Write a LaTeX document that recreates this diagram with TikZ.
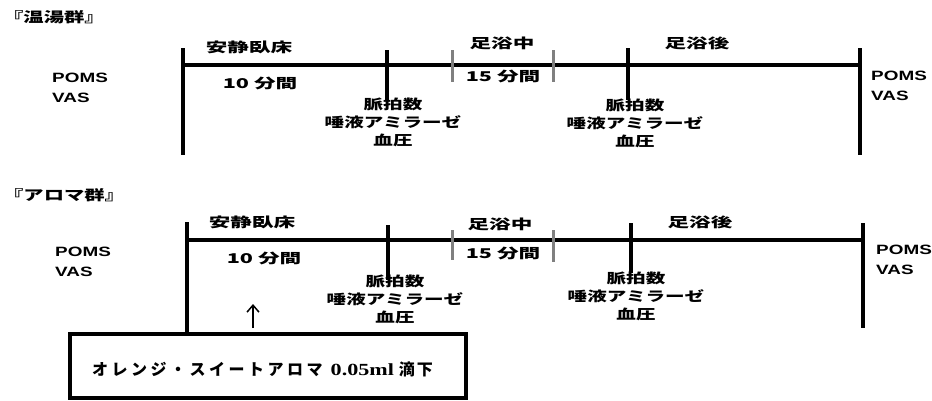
\documentclass[tikz,border=0pt]{standalone}
\usepackage{fontspec}
\setmainfont{Liberation Sans}
\newfontfamily\jp{Noto Sans CJK JP}
\newfontfamily\serifl{Liberation Serif}
\usetikzlibrary{arrows.meta}
\newcommand{\sx}[1]{\scalebox{1.6}[1]{#1}}
\newcommand{\lt}[1]{\scalebox{1.4}[1]{#1}}
\newcommand{\ls}[1]{#1\hspace{3.5pt}}
\tikzset{
  lbl/.style={inner sep=0pt, font=\jp\bfseries\fontsize{13.5}{18}\selectfont},
  ttl/.style={inner sep=0pt, font=\jp\bfseries\fontsize{14}{18}\selectfont},
  latin/.style={inner sep=0pt, font=\bfseries\fontsize{13.5}{20}\selectfont},
  bar/.style={line width=4.5pt},
  hline/.style={line width=3.5pt},
  gtick/.style={line width=3pt, draw=black!50},
  notebox/.style={draw, line width=3.5pt, inner sep=0pt},
}
\begin{document}
\begin{tikzpicture}[x=1pt,y=-1pt]
\useasboundingbox (0,0) rectangle (932,400);
% ---------- top panel ----------
\node[ttl, anchor=west] (t1) at (3,17) {\scalebox{1.45}[1]{『温湯群』}};
\coordinate (a0t) at (183,48); \coordinate (a0b) at (183,155);
\coordinate (a1t) at (387,50); \coordinate (a1b) at (387,100);
\coordinate (g1t) at (452,50); \coordinate (g1b) at (452,82);
\coordinate (g2t) at (553,50); \coordinate (g2b) at (553,82);
\coordinate (a2t) at (628,48); \coordinate (a2b) at (628,100);
\coordinate (a3t) at (860,48); \coordinate (a3b) at (860,155);
\coordinate (hl) at (183,65); \coordinate (hr) at (860,65);
\draw[hline] (hl) -- (hr);
\draw[bar] (a0t) -- (a0b);
\draw[bar] (a1t) -- (a1b);
\draw[bar] (a2t) -- (a2b);
\draw[bar] (a3t) -- (a3b);
\draw[gtick] (g1t) -- (g1b);
\draw[gtick] (g2t) -- (g2b);
\node[lbl] (s1) at (249,47) {\sx{安静臥床}};
\node[lbl] (d1) at (260,83) {\sx{10 分間}};
\node[lbl] (s2) at (502,43) {\sx{足浴中}};
\node[lbl] (d2) at (503,76) {\sx{15 分間}};
\node[lbl] (s3) at (697,43) {\sx{足浴後}};
\node[latin, anchor=west] (pl1) at (52,88) {\lt{\begin{tabular}{@{}l@{}}POMS\\VAS\end{tabular}}};
\node[latin, anchor=west] (pr1) at (871,86) {\lt{\begin{tabular}{@{}l@{}}POMS\\VAS\end{tabular}}};
\node[lbl] (m1) at (393,124) {\scalebox{1.45}[1]{\begin{tabular}{@{}c@{}}脈拍数\\唾液アミラーゼ\\血圧\end{tabular}}};
\node[lbl] (m2) at (635,125) {\scalebox{1.45}[1]{\begin{tabular}{@{}c@{}}脈拍数\\唾液アミラーゼ\\血圧\end{tabular}}};
% ---------- bottom panel ----------
\node[ttl, anchor=west] (t2) at (3,195) {\scalebox{1.45}[1]{『アロマ群』}};
\coordinate (b0t) at (187,222); \coordinate (b0b) at (187,332);
\coordinate (b1t) at (388,225); \coordinate (b1b) at (388,280);
\coordinate (h1t) at (452,230); \coordinate (h1b) at (452,260);
\coordinate (h2t) at (553,230); \coordinate (h2b) at (553,262);
\coordinate (b2t) at (631,223); \coordinate (b2b) at (631,273);
\coordinate (b3t) at (863,223); \coordinate (b3b) at (863,328);
\coordinate (kl) at (187,240); \coordinate (kr) at (863,240);
\draw[hline] (kl) -- (kr);
\draw[bar] (b0t) -- (b0b);
\draw[bar] (b1t) -- (b1b);
\draw[bar] (b2t) -- (b2b);
\draw[bar] (b3t) -- (b3b);
\draw[gtick] (h1t) -- (h1b);
\draw[gtick] (h2t) -- (h2b);
\node[lbl] (u1) at (252,222) {\sx{安静臥床}};
\node[lbl] (e1) at (264,258) {\sx{10 分間}};
\node[lbl] (u2) at (500,224) {\sx{足浴中}};
\node[lbl] (e2) at (503,253) {\sx{15 分間}};
\node[lbl] (u3) at (700,222) {\sx{足浴後}};
\node[latin, anchor=west] (pl2) at (55,262) {\lt{\begin{tabular}{@{}l@{}}POMS\\VAS\end{tabular}}};
\node[latin, anchor=west] (pr2) at (876,260) {\lt{\begin{tabular}{@{}l@{}}POMS\\VAS\end{tabular}}};
\node[lbl] (n1) at (395,301) {\scalebox{1.45}[1]{\begin{tabular}{@{}c@{}}脈拍数\\唾液アミラーゼ\\血圧\end{tabular}}};
\node[lbl] (n2) at (636,298) {\scalebox{1.45}[1]{\begin{tabular}{@{}c@{}}脈拍数\\唾液アミラーゼ\\血圧\end{tabular}}};
% ---------- note box ----------
\fill[white] (68,332) rectangle (466,398);
\node[notebox, minimum width=396pt, minimum height=64pt, anchor=north west] (box) at (68,332) {};
\node[inner sep=0pt, anchor=west, font=\jp\bfseries\fontsize{16}{18}\selectfont] (boxtxt) at (92,369)
  {\ls{オ}\ls{レ}\ls{ン}\ls{ジ}\ls{・}\ls{ス}\ls{イ}\ls{ー}\ls{ト}\ls{ア}\ls{ロ}マ\hspace{8pt}{\serifl\bfseries\fontsize{17}{18}\selectfont\scalebox{1.3}[1]{0.05ml}}\hspace{5pt}滴\hspace{2pt}下};
\coordinate (arrtip) at (253,304);
\draw[line width=1.5pt, -{Straight Barb[length=7pt,width=12pt]}] (box.north -| arrtip) ++(0,-4) -- (arrtip);
\end{tikzpicture}
\end{document}
